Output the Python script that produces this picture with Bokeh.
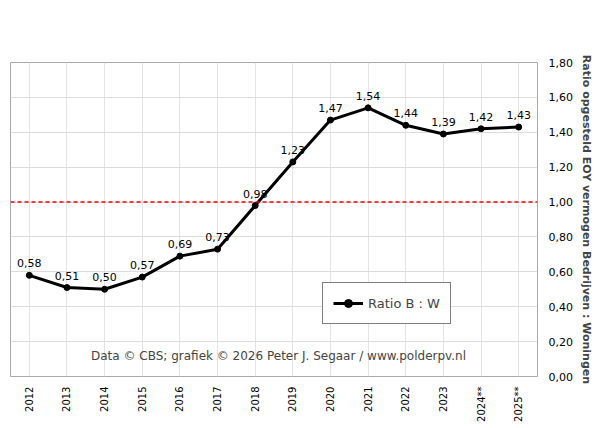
from math import pi
from bokeh.plotting import figure
from bokeh.models import (Legend, LegendItem, Label, Span, ColumnDataSource,
                          CustomJSTickFormatter, FixedTicker, Range1d)
from bokeh.core.properties import value
from bokeh.embed import file_html
from bokeh.resources import INLINE

years = ["2012", "2013", "2014", "2015", "2016", "2017", "2018", "2019",
         "2020", "2021", "2022", "2023", "2024**", "2025**"]
ratio = [0.58, 0.51, 0.50, 0.57, 0.69, 0.73, 0.98, 1.23, 1.47, 1.54, 1.44, 1.39, 1.42, 1.43]
labels = [f"{v:.2f}".replace(".", ",") for v in ratio]

src = ColumnDataSource(dict(x=years, y=ratio, lab=labels))

p = figure(width=595, height=424, x_range=years, y_range=Range1d(0, 1.8),
           y_axis_location="right", output_backend="svg", toolbar_location=None,
           min_border_left=10, min_border_top=62, min_border_right=8, min_border_bottom=0)
p.outline_line_color = "#aaaaaa"
p.xgrid.grid_line_color = "#e4e4e4"
p.ygrid.grid_line_color = "#dcdcdc"
p.yaxis.ticker = FixedTicker(ticks=[i * 0.2 for i in range(10)])
p.yaxis.formatter = CustomJSTickFormatter(code="return tick.toFixed(2).replace('.', ',');")
p.yaxis.axis_label = "Ratio opgesteld EOY vermogen Bedrijven : Woningen"
p.yaxis.axis_label_text_font_style = "bold"
p.yaxis.axis_label_text_font_size = "11px"
p.yaxis.axis_label_text_font = "DejaVu Sans"
p.yaxis.axis_label_standoff = 4
p.yaxis.major_label_text_font_size = "11px"
p.yaxis.major_label_text_font = "DejaVu Sans"
p.xaxis.major_label_orientation = pi / 2
p.xaxis.major_label_text_font_size = "10px"
p.xaxis.major_label_text_font = "DejaVu Sans"
p.xaxis.major_label_standoff = 4
for ax in (p.xaxis, p.yaxis):
    ax.axis_line_color = None
    ax.major_tick_line_color = None
    ax.minor_tick_line_color = None
    ax.major_label_text_color = "black"

p.add_layout(Span(location=1.0, dimension="width", line_color="red",
                  line_dash="4 3", line_width=1.5))

r1 = p.line("x", "y", source=src, line_width=3, color="black")
r2 = p.scatter("x", "y", source=src, size=6, color="black")
p.text("x", "y", text="lab", source=src, text_align="center", text_baseline="bottom",
       y_offset=-8, text_font_size="11px", text_font=value("DejaVu Sans"))

leg = Legend(items=[LegendItem(label="Ratio B : W", renderers=[r1, r2])],
             location=(312, 52), border_line_color="black", border_line_width=1,
             label_text_font_size="13px", label_text_font="DejaVu Sans",
             padding=10, glyph_width=30)
p.add_layout(leg)

p.add_layout(Label(x=268, y=14, x_units="screen", y_units="screen",
                   text="Data © CBS; grafiek © 2026 Peter J. Segaar / www.polderpv.nl",
                   text_align="center", text_font_size="12px", text_font="DejaVu Sans"))

title1 = "Verhouding tussen PV-capaciteit EOY aanwezig bij"
title2 = "bedrijven (incl. zonneparken e.d.), t.o.v. woningen,"
title3a = "volgens CBS data. Status: "
title3b = "12 juni 2026"
kw = dict(x_units="screen", text_baseline="middle", text_font_size="15px",
          text_font_style="bold", text_font="DejaVu Sans")
p.add_layout(Label(x=268, y=2.10, text=title1, text_align="center", **kw))
p.add_layout(Label(x=268, y=1.99, text=title2, text_align="center", **kw))
p.add_layout(Label(x=335, y=1.875, text=title3a, text_align="right", **kw))
p.add_layout(Label(x=335, y=1.875, text=title3b, text_align="left", text_color="red", **kw))

open("out.html", "w").write(file_html(p, INLINE))
